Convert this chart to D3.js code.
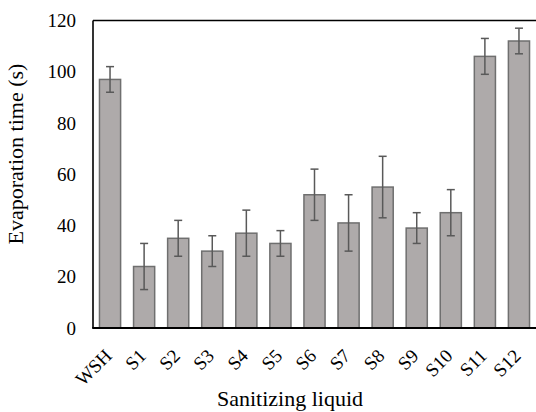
<!DOCTYPE html>
<html><head><meta charset="utf-8">
<script src="https://cdn.jsdelivr.net/npm/d3@7"></script>
<style>body{margin:0;background:#fff}svg{display:block}
svg text{font-family:"Liberation Serif","Times New Roman",Times,serif !important;}</style>
</head><body>
<script>
const categories = ["WSH","S1","S2","S3","S4","S5","S6","S7","S8","S9","S10","S11","S12"];
const values = [97,24,35,30,37,33,52,41,55,39,45,106,112];
const errors = [5,9,7,6,9,5,10,11,12,6,9,7,5];
const yTicks = [0,20,40,60,80,100,120];

const W=536,H=412;
const m={left:93,right:0,top:20.5,bottom:84};
const svg=d3.select("body").append("svg").attr("width",W).attr("height",H);
const x=d3.scaleBand().domain(categories).range([m.left,W-m.right]).paddingInner(0.38).paddingOuter(0.19);
const y=d3.scaleLinear().domain([0,120]).range([H-m.bottom,m.top]);

// bars
svg.selectAll("rect.bar").data(categories).join("rect")
  .attr("x",d=>x(d)).attr("width",x.bandwidth())
  .attr("y",(d,i)=>y(values[i])).attr("height",(d,i)=>y(0)-y(values[i]))
  .attr("fill","#aeaaaa").attr("stroke","#6f6f6f").attr("stroke-width",1.5);

// error bars
const eg=svg.append("g").attr("stroke","#595959").attr("stroke-width",1.5);
categories.forEach((c,i)=>{
  const cx=x(c)+x.bandwidth()/2;
  const y1=y(values[i]+errors[i]), y2=y(values[i]-errors[i]);
  eg.append("line").attr("x1",cx).attr("x2",cx).attr("y1",y1).attr("y2",y2);
  eg.append("line").attr("x1",cx-4).attr("x2",cx+4).attr("y1",y1).attr("y2",y1);
  eg.append("line").attr("x1",cx-4).attr("x2",cx+4).attr("y1",y2).attr("y2",y2);
});

// frame
svg.append("line").attr("x1",m.left).attr("x2",W).attr("y1",m.top).attr("y2",m.top).attr("stroke","#000").attr("stroke-width",1.3);
svg.append("line").attr("x1",m.left).attr("x2",m.left).attr("y1",m.top).attr("y2",y(0)).attr("stroke","#000").attr("stroke-width",1.6);
svg.append("line").attr("x1",m.left-0.8).attr("x2",W).attr("y1",y(0)).attr("y2",y(0)).attr("stroke","#000").attr("stroke-width",2.2);

// y axis
const ya=svg.append("g").attr("transform",`translate(${m.left},0)`)
  .call(d3.axisLeft(y).tickValues(yTicks).tickSize(0).tickPadding(17));
ya.attr("font-family",null).attr("font-size",null);
ya.select(".domain").remove();
ya.selectAll("text").attr("font-size",19).attr("fill","#000");

// x axis labels
const xa=svg.append("g").attr("transform",`translate(0,${y(0)})`)
  .call(d3.axisBottom(x).tickSize(0));
xa.attr("font-family",null).attr("font-size",null);
xa.select(".domain").remove();
xa.selectAll("text").attr("font-size",19).attr("fill","#000")
  .attr("text-anchor","end").attr("dy",0).attr("y",0)
  .attr("transform","translate(3,29) rotate(-45)");

// titles
svg.append("text").attr("x",290).attr("y",406).attr("text-anchor","middle")
  .attr("font-size",22).text("Sanitizing liquid");
svg.append("text").attr("transform",`translate(23,154) rotate(-90)`).attr("text-anchor","middle")
  .attr("font-size",22).text("Evaporation time (s)");
</script>
</body></html>
